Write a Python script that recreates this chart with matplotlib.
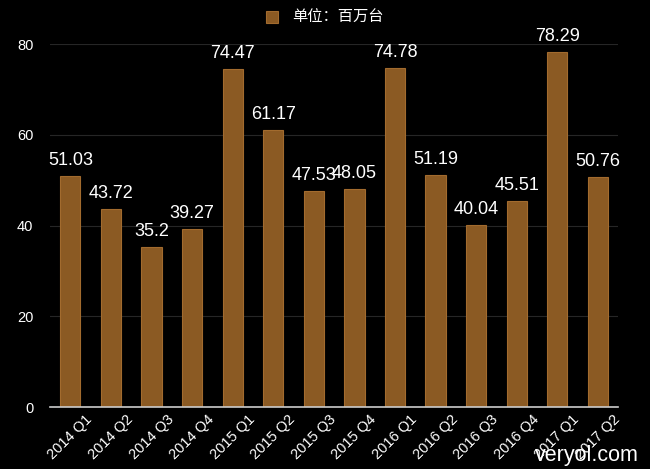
import matplotlib.pyplot as plt
import numpy as np

plt.rcParams['font.family'] = ['Noto Sans CJK SC', 'DejaVu Sans']

quarters = ['2014 Q1', '2014 Q2', '2014 Q3', '2014 Q4',
            '2015 Q1', '2015 Q2', '2015 Q3', '2015 Q4',
            '2016 Q1', '2016 Q2', '2016 Q3', '2016 Q4',
            '2017 Q1', '2017 Q2']
sales = [51.03, 43.72, 35.2, 39.27, 74.47, 61.17, 47.53, 48.05,
         74.78, 51.19, 40.04, 45.51, 78.29, 50.76]
legend_label = '单位：百万台'

fig = plt.figure(figsize=(6.5, 4.69), dpi=100, facecolor='black')
ax = fig.add_axes((0.077, 0.132, 0.874, 0.774))
ax.set_facecolor('black')

x = np.arange(len(quarters))
bars = ax.bar(x, sales, width=0.5, color='#8b5a23', edgecolor='#a26b2e',
              linewidth=0.8, label=legend_label, zorder=3)

for xi, v in zip(x, sales):
    ax.annotate(f'{v:g}', (xi, v), xytext=(0, 5), textcoords='offset points',
                ha='center', va='bottom', color='white', fontsize=13,
                family='Liberation Sans', zorder=4)

ax.set_xlim(-0.5, len(quarters) - 0.5)
ax.set_ylim(0, 80)
ax.set_yticks([0, 20, 40, 60, 80])
ax.yaxis.grid(True, color='#262626', linewidth=0.8, zorder=0)
ax.set_xticks(x)
ax.set_xticklabels(quarters, rotation=45, ha='center', family='Liberation Sans')
for lab in ax.get_yticklabels():
    lab.set_family('Liberation Sans')
ax.tick_params(axis='both', colors='white', labelsize=10.5, length=0)
ax.tick_params(axis='y', pad=12)
ax.tick_params(axis='x', pad=4)

for side in ['top', 'right', 'left']:
    ax.spines[side].set_visible(False)
ax.spines['bottom'].set_color('#cccccc')
ax.spines['bottom'].set_linewidth(1.2)
ax.spines['bottom'].set_zorder(5)

leg = fig.legend(loc='upper center', bbox_to_anchor=(0.5, 1.01), frameon=False,
                 fontsize=11, handlelength=0.8, handleheight=0.8,
                 handletextpad=0.9)
for t in leg.get_texts():
    t.set_color('white')

fig.text(0.983, 0.017, 'veryol.com', color='white', fontsize=15.5,
         ha='right', va='baseline', family='Liberation Sans')

fig.savefig('out.png', dpi=100, facecolor='black')
